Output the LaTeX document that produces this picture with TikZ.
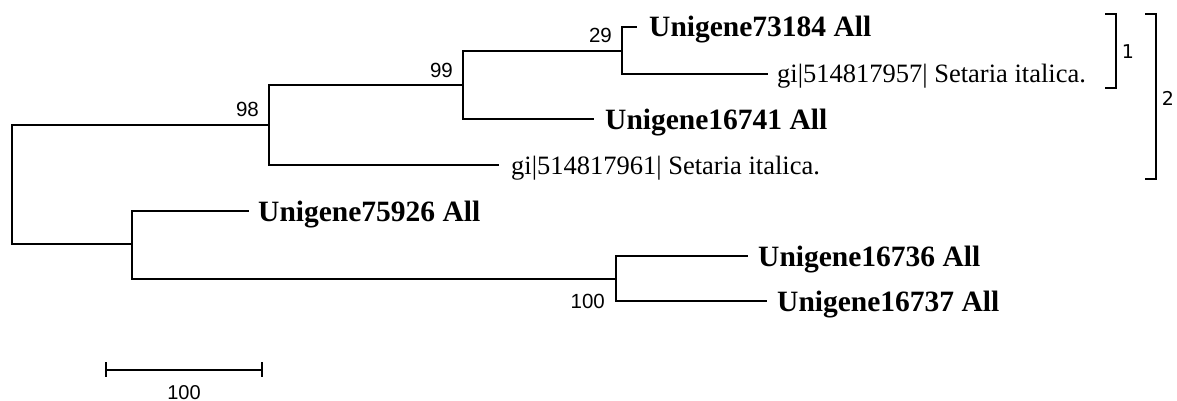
\documentclass[tikz,border=0pt]{standalone}
\usepackage{fontspec}
\setmainfont{Liberation Serif}
\newfontfamily\numfont{Liberation Sans}
\newfontfamily\brfont{DejaVu Sans}
\begin{document}
\begin{tikzpicture}[x=1pt,y=-1pt,
  branch/.style={line width=1.4pt, line cap=rect},
  leafb/.style={anchor=base west, inner sep=0pt, font=\fontsize{29.5}{31}\selectfont\bfseries},
  leafr/.style={anchor=base west, inner sep=0pt, font=\fontsize{26.5}{30}\selectfont},
  boot/.style={anchor=base east, inner sep=0pt, font=\numfont\fontsize{20.5}{22}\selectfont},
  brlabel/.style={inner sep=0pt, font=\brfont\fontsize{19}{21}\selectfont}]
\useasboundingbox (0,0) rectangle (1177,401);
% internal nodes
\coordinate (root) at (12,184.5);
\coordinate (n98) at (269,125);
\coordinate (n99) at (463,85);
\coordinate (n29) at (622,51);
\coordinate (nA) at (132,244);
\coordinate (n100) at (616,279);
% leaf line ends
\coordinate (e1) at (636,27);
\coordinate (e2) at (767,74);
\coordinate (e3) at (593,119);
\coordinate (e4) at (498,165);
\coordinate (e5) at (248,211);
\coordinate (e6) at (747,256);
\coordinate (e7) at (766,301);
% leaf labels
\node[leafb] (t1) at ([xshift=13pt,yshift=-10pt]e1) {Unigene73184 All};
\node[leafr] (t2) at ([xshift=10pt,yshift=-9pt]e2) {gi|514817957| Setaria italica.};
\node[leafb] (t3) at ([xshift=12pt,yshift=-10pt]e3) {Unigene16741 All};
\node[leafr] (t4) at ([xshift=13pt,yshift=-9pt]e4) {gi|514817961| Setaria italica.};
\node[leafb] (t5) at ([xshift=10pt,yshift=-10pt]e5) {Unigene75926 All};
\node[leafb] (t6) at ([xshift=11pt,yshift=-10pt]e6) {Unigene16736 All};
\node[leafb] (t7) at ([xshift=11pt,yshift=-10pt]e7) {Unigene16737 All};
% branches
\draw[branch] (root) |- (n98);
\draw[branch] (root) |- (nA);
\draw[branch] (n98) |- (n99);
\draw[branch] (n98) |- (e4);
\draw[branch] (n99) |- (n29);
\draw[branch] (n99) |- (e3);
\draw[branch] (n29) |- (e1);
\draw[branch] (n29) |- (e2);
\draw[branch] (nA) |- (e5);
\draw[branch] (nA) |- (n100);
\draw[branch] (n100) |- (e6);
\draw[branch] (n100) |- (e7);
% bootstrap values
\node[boot] (b98) at (259,117) {98};
\node[boot] (b99) at (453,78) {99};
\node[boot] (b29) at (612,43) {29};
\node[boot] (b100) at (605,308) {100};
% clade brackets
\draw[line width=1.4pt] (1105,14) -- (1116,14) -- (1116,88) -- (1105,88);
\draw[line width=1.4pt] (1145,14) -- (1156,14) -- (1156,179) -- (1145,179);
\node[brlabel] (c1) at (1128,52) {1};
\node[brlabel] (c2) at (1168,98) {2};
% scale bar
\coordinate (s1) at (106,370);
\coordinate (s2) at (262,370);
\draw[line width=1.4pt] (s1) -- (s2);
\draw[line width=1.4pt] ([yshift=8pt]s1) -- ([yshift=-7pt]s1);
\draw[line width=1.4pt] ([yshift=8pt]s2) -- ([yshift=-7pt]s2);
\node[inner sep=0pt, anchor=base, font=\numfont\fontsize{20}{22}\selectfont] (sl) at (184,399) {100};
\end{tikzpicture}
\end{document}
